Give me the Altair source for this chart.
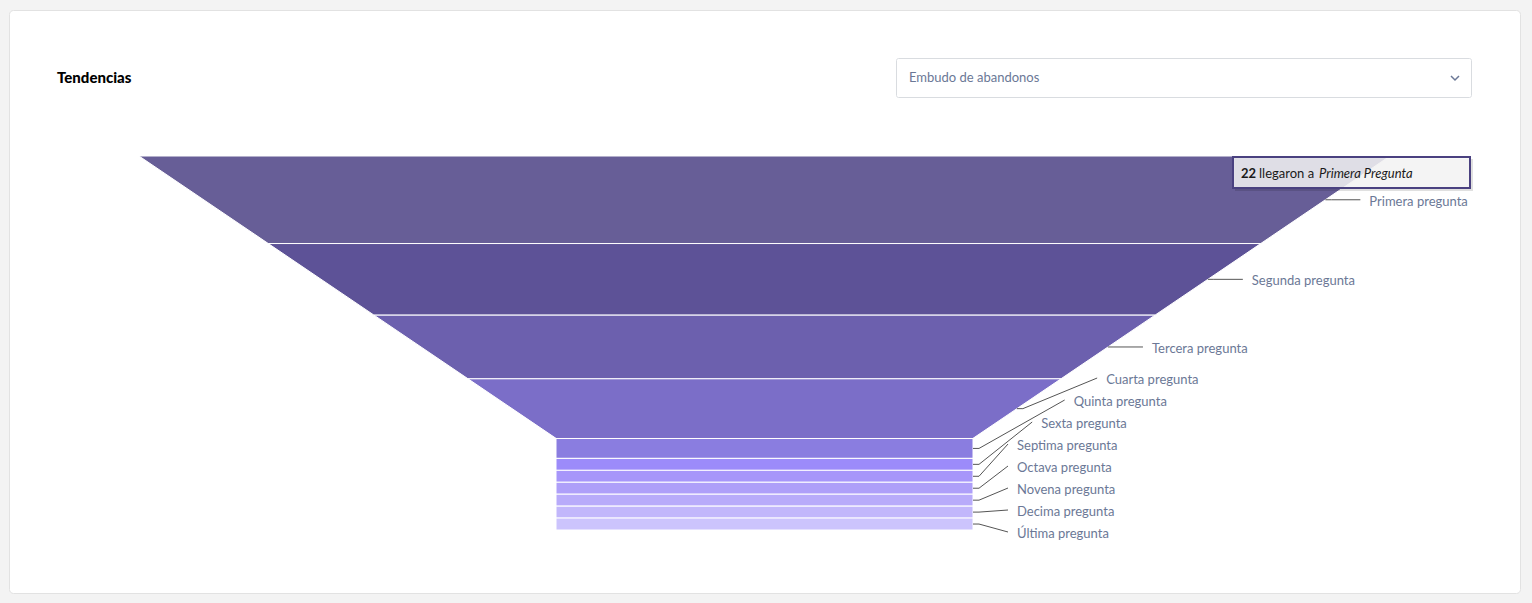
import altair as alt
import pandas as pd
import numpy as np

# ---------------- data ----------------
categories = ["Primera pregunta", "Segunda pregunta", "Tercera pregunta", "Cuarta pregunta",
              "Quinta pregunta", "Sexta pregunta", "Septima pregunta", "Octava pregunta",
              "Novena pregunta", "Decima pregunta", "Última pregunta"]
reached = [22, 18, 16, 15, 5, 3, 3, 3, 3, 3, 3]
colors = ["#675e97", "#5d5297", "#6c60ae", "#7b6ec8", "#8a7de0", "#9c8bfa",
          "#a796fa", "#ae9ff9", "#b8abfa", "#c2b7fb", "#ccc4fd"]

title_text = "Tendencias"
dropdown_text = "Embudo de abandonos"
tooltip_value = reached[0]
tooltip_mid = "llegaron a"
tooltip_point = "Primera Pregunta"

# ---------------- layout constants ----------------
W, H = 1532, 603
FONT = "Lato"
CX = 764.5          # funnel centre
TOP = 156           # funnel top (px)
FH = 374            # funnel height (px)
TOP_W = 1251        # funnel top width
NECK_W = 417        # neck width
NECK_H = 0.245      # neck height fraction
LABEL_GAP = 44
LABEL_SPACING = 22
LABEL_COLOR = "#6b7896"

neck_y = TOP + FH * (1 - NECK_H)


def half_width(y):
    if y >= neck_y:
        return NECK_W / 2
    return TOP_W / 2 - (TOP_W - NECK_W) / 2 * (y - TOP) / (neck_y - TOP)


total = sum(reached)
cum = np.concatenate([[0], np.cumsum(reached)])

seg_rows = []
centers = []
for i, (c, v) in enumerate(zip(categories, reached)):
    y0 = TOP + FH * cum[i] / total
    y1 = TOP + FH * cum[i + 1] / total
    centers.append((y0 + y1) / 2)
    ys_ = [y0] + ([neck_y] if y0 < neck_y < y1 else []) + [y1]
    for k, y in enumerate(ys_):
        seg_rows.append(dict(cat=c, k=k, py=float(y),
                             xl=float(CX - half_width(y)), xr=float(CX + half_width(y))))
seg_df = pd.DataFrame(seg_rows)

# label placement (push overlapping labels upward from the bottom)
n = len(categories)
label_y = [0.0] * n
label_y[-1] = TOP + FH + 2
for i in range(n - 2, -1, -1):
    label_y[i] = min(centers[i], label_y[i + 1] - LABEL_SPACING)

lab_rows, con_rows = [], []
for i, c in enumerate(categories):
    lx = CX + half_width(label_y[i]) + LABEL_GAP
    ex = CX + half_width(centers[i])
    lab_rows.append(dict(cat=c, x=float(lx), y=float(label_y[i])))
    pts = [(ex, centers[i]), (ex + 6, centers[i]), (lx - 9, label_y[i])]
    for k, (px, py) in enumerate(pts):
        con_rows.append(dict(cat=c, k=k, x=float(px), y=float(py)))
lab_df = pd.DataFrame(lab_rows)
con_df = pd.DataFrame(con_rows)

xs = alt.Scale(domain=[0, W], nice=False, zero=False)
ys = alt.Scale(domain=[0, H], nice=False, zero=False, reverse=True)
one = pd.DataFrame({"a": [0]})

# ---------------- decorations ----------------
card = alt.Chart(one).mark_rect(fill="white", stroke="#e2e2e2", strokeWidth=1, cornerRadius=4).encode(
    x=alt.value(9.5), x2=alt.value(1520.5), y=alt.value(10.5), y2=alt.value(593.5))

title = alt.Chart(pd.DataFrame({"t": [title_text]})).mark_text(
    align="left", baseline="middle", font=FONT, fontSize=15, fontWeight=900, color="#000000"
).encode(x=alt.value(57), y=alt.value(78), text="t:N")

dropdown = alt.Chart(one).mark_rect(fill="white", stroke="#d9dce0", strokeWidth=1, cornerRadius=2).encode(
    x=alt.value(896.5), x2=alt.value(1471.5), y=alt.value(58.5), y2=alt.value(97.5))
dropdown_txt = alt.Chart(pd.DataFrame({"t": [dropdown_text]})).mark_text(
    align="left", baseline="middle", font=FONT, fontSize=13, color=LABEL_COLOR
).encode(x=alt.value(909), y=alt.value(78), text="t:N")
chevron = alt.Chart(one).mark_point(
    shape="M-1,-0.5L0,0.5L1,-0.5", filled=False, size=64, stroke=LABEL_COLOR, strokeWidth=1.5, opacity=1
).encode(x=alt.value(1455), y=alt.value(78))

# ---------------- funnel ----------------
funnel = alt.Chart(seg_df).mark_area(orient="horizontal", stroke="white", strokeWidth=1, opacity=1).encode(
    y=alt.Y("py:Q", scale=ys, axis=None),
    x=alt.X("xl:Q", scale=xs, axis=None, stack=None),
    x2=alt.X2("xr:Q"),
    color=alt.Color("cat:N", scale=alt.Scale(domain=categories, range=colors), legend=None),
)

connectors = alt.Chart(con_df).mark_line(color="#555555", strokeWidth=1).encode(
    x=alt.X("x:Q", scale=xs, axis=None),
    y=alt.Y("y:Q", scale=ys, axis=None),
    detail="cat:N",
    order="k:Q",
)

labels = alt.Chart(lab_df).mark_text(
    align="left", baseline="middle", font=FONT, fontSize=13, color=LABEL_COLOR, dy=2
).encode(
    x=alt.X("x:Q", scale=xs, axis=None),
    y=alt.Y("y:Q", scale=ys, axis=None),
    text="cat:N",
)

# ---------------- tooltip ----------------
tip_shadow = alt.Chart(one).mark_rect(fill="#000000", opacity=0.12).encode(
    x=alt.value(1235), x2=alt.value(1473), y=alt.value(159), y2=alt.value(191))
tip_box = alt.Chart(one).mark_rect(fill="#f7f7f7", fillOpacity=0.85, stroke="#4a4180", strokeWidth=2).encode(
    x=alt.value(1233), x2=alt.value(1470), y=alt.value(157), y2=alt.value(188))
tip_num = alt.Chart(pd.DataFrame({"t": [str(tooltip_value)]})).mark_text(
    align="left", baseline="middle", font=FONT, fontSize=13, fontWeight="bold", color="#1a1a1a"
).encode(x=alt.value(1241), y=alt.value(174), text="t:N")
tip_mid = alt.Chart(pd.DataFrame({"t": [tooltip_mid]})).mark_text(
    align="left", baseline="middle", font=FONT, fontSize=13, color="#1a1a1a"
).encode(x=alt.value(1259), y=alt.value(174), text="t:N")
tip_pt = alt.Chart(pd.DataFrame({"t": [tooltip_point]})).mark_text(
    align="left", baseline="middle", font=FONT, fontSize=13, fontStyle="italic", color="#1a1a1a"
).encode(x=alt.value(1319), y=alt.value(174), text="t:N")

chart = alt.layer(
    card, title, dropdown, dropdown_txt, chevron,
    funnel, connectors, labels,
    tip_shadow, tip_box, tip_num, tip_mid, tip_pt,
).properties(
    width=W, height=H, background="#f3f3f3", padding=0,
    autosize=alt.AutoSizeParams(type="none"),
).configure_view(stroke=None)

chart.save("out.html", embed_options={"renderer": "svg", "actions": False})
